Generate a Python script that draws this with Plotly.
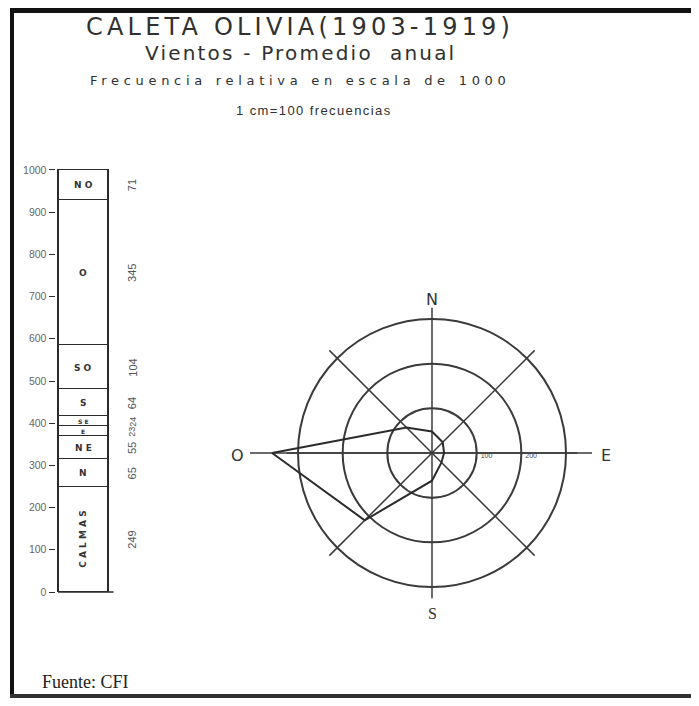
"""
Caleta Olivia (1903-1919) -- annual wind frequency: stacked column + wind rose.
"""
import numpy as np
import plotly.graph_objects as go

# ── Data ────────────────────────────────────────────────────
# stacked column, bottom to top (relative frequency on a 1000 scale)
bar_labels = ["C A L M A S", "N", "N E", "E", "S E", "S", "S O", "O", "N O"]
bar_values = [249, 65, 55, 23, 24, 64, 104, 345, 71]

# wind rose, as drawn on the sheet
rose_dirs = ["N", "NE", "E", "SE", "S", "SO", "O", "NO"]
rose_theta = [0, 45, 90, 135, 180, 225, 270, 315]
rose_r = [48, 34, 27, 30, 62, 213, 358, 81]

ring_vals = [100, 200, 300]
ring_text = ["100", "200"]
y_ticks = [0, 100, 200, 300, 400, 500, 600, 700, 800, 900, 1000]

# page body has an 8px margin: figure is sized to fit the window without scrolling
OFF = 8
W, H = 699 - 2 * OFF, 706 - 2 * OFF
INK = "#2b2b2b"
GRID = "#3a3a3a"


def px(x):
    return (x - OFF) / W


def py(y):
    return 1 - (y - OFF) / H


def note(x, y, text, size, color="#333", family="DejaVu Sans", **kw):
    return dict(x=px(x), y=py(y), xref="paper", yref="paper", text=text,
                showarrow=False, xanchor=kw.pop("xanchor", "center"), yanchor="middle",
                font=dict(size=size, color=color, family=family), **kw)


fig = go.Figure()

# ── Stacked column ──────────────────────────────────────────
for lab, val in zip(bar_labels, bar_values):
    fig.add_trace(go.Bar(
        x=[0], y=[val], width=1, name=lab, showlegend=False,
        marker=dict(color="white", line=dict(color=INK, width=1.6)),
        hoverinfo="y+name", xaxis="x", yaxis="y",
    ))

mids = np.cumsum(bar_values) - np.array(bar_values) / 2
annotations = []
for lab, val, mid in zip(bar_labels, bar_values, mids):
    small = val < 30
    annotations.append(dict(
        x=0, y=mid, xref="x", yref="y", text=f"<b>{lab}</b>", showarrow=False,
        xanchor="center", yanchor="middle",
        textangle=-90 if lab.startswith("C") else 0,
        font=dict(size=6 if small else 9, color="#333", family="DejaVu Sans"),
    ))
    annotations.append(dict(
        x=0.97, y=mid, xref="x", yref="y", text=str(val), showarrow=False,
        xanchor="center", yanchor="middle",
        textangle=-90, font=dict(size=9 if small else 11, color="#555",
                                 family="Liberation Sans"),
    ))

# ── Wind rose ───────────────────────────────────────────────
SPOKE = 325          # length of the compass spokes, in rose units
for t in rose_theta[:4]:
    fig.add_trace(go.Scatterpolar(
        r=[SPOKE, 0, SPOKE], theta=[t, t, t + 180], mode="lines",
        line=dict(color=GRID, width=1.5), showlegend=False, hoverinfo="skip",
    ))
fig.add_trace(go.Scatterpolar(
    r=rose_r + rose_r[:1], theta=rose_theta + rose_theta[:1],
    mode="lines", line=dict(color=INK, width=2), showlegend=False,
    text=rose_dirs + rose_dirs[:1], hoverinfo="text+r",
))
fig.add_trace(go.Scatterpolar(
    r=[v + 22 for v in ring_vals[:2]], theta=[90, 90], mode="text",
    text=ring_text, textposition="bottom center",
    textfont=dict(size=7, color="#444", family="Liberation Sans"),
    showlegend=False, hoverinfo="skip",
))

cx, cy = 432, 453
annotations += [
    note(cx, 300, "N", 16),
    note(cx, 613, "S", 16, family="Liberation Serif"),
    note(237, 455, "O", 16),
    note(606, 455, "E", 16),
]

# ── Titles ──────────────────────────────────────────────────
titles = [
    ("CALETA OLIVIA(1903-1919)", 300, 27, 24, 4.2, "DejaVu Sans"),
    ("Vientos - Promedio  anual", 300, 53, 20, 2.2, "DejaVu Sans"),
    ("Frecuencia relativa en escala de 1000", 300, 81, 13, 4.7, "DejaVu Sans"),
    ("1 cm=100 frecuencias", 314, 110, 13, 1.4, "Liberation Sans"),
]
for t, x, y, size, ls, fam in titles:
    annotations.append(note(
        x, y, f'<span style="letter-spacing:{ls}px">{t}</span>', size,
        color="#303030", family=fam,
    ))
annotations.append(note(40, 682, "Fuente: CFI", 18, color="#222",
                        family="Liberation Serif", xanchor="left"))

# ── Frame and long E-W spoke ────────────────────────────────
shapes = [
    dict(type="rect", xref="paper", yref="paper", x0=px(10), x1=px(720), y0=py(7), y1=py(13),
         fillcolor="#111", line_width=0, layer="above"),
    dict(type="rect", xref="paper", yref="paper", x0=px(10), x1=px(14), y0=py(7), y1=py(698),
         fillcolor="#111", line_width=0, layer="above"),
    dict(type="rect", xref="paper", yref="paper", x0=px(10), x1=px(720), y0=py(694), y1=py(698),
         fillcolor="#333", line_width=0, layer="above"),
    dict(type="line", xref="paper", yref="paper", x0=px(250), x1=px(592), y0=py(cy), y1=py(cy),
         line=dict(color=GRID, width=1.5), layer="below"),
    dict(type="line", xref="x", yref="y", x0=-0.5, x1=0.6, y0=0, y1=0,
         line=dict(color=INK, width=1.6)),
]

RMAX = 365
R = 134 / 300 * RMAX   # 300-ring drawn at 134 px
UNIT = 49              # px per bar-axis unit
fig.update_layout(
    width=W, height=H, margin=dict(l=0, r=0, t=0, b=0, autoexpand=False),
    paper_bgcolor="white", plot_bgcolor="white",
    barmode="stack", bargap=0,
    xaxis=dict(domain=[px(58 - 0.05 * UNIT), px(58 + 1.7 * UNIT)], range=[-0.55, 1.15],
               visible=False, fixedrange=True, automargin=False),
    yaxis=dict(
        domain=[py(592 + 1.7), py(170 - 1.7)], range=[-4, 1004], tickvals=y_ticks,
        ticks="outside", ticklen=6, tickcolor=INK, tickwidth=1.2,
        showgrid=False, zeroline=False, showline=False, automargin=False,
        tickfont=dict(size=10.5, color="#666", family="Liberation Sans"),
    ),
    polar=dict(
        domain=dict(x=[px(cx - R), px(cx + R)], y=[py(cy + R), py(cy - R)]),
        bgcolor="rgba(0,0,0,0)",
        radialaxis=dict(range=[0, RMAX], tickvals=ring_vals, showticklabels=False,
                        ticks="", showline=False, gridcolor=GRID, gridwidth=1.5),
        angularaxis=dict(rotation=90, direction="clockwise", tickvals=rose_theta,
                         showticklabels=False, ticks="", showline=False, showgrid=False),
    ),
    annotations=annotations, shapes=shapes,
)

fig.write_html("out.html")
